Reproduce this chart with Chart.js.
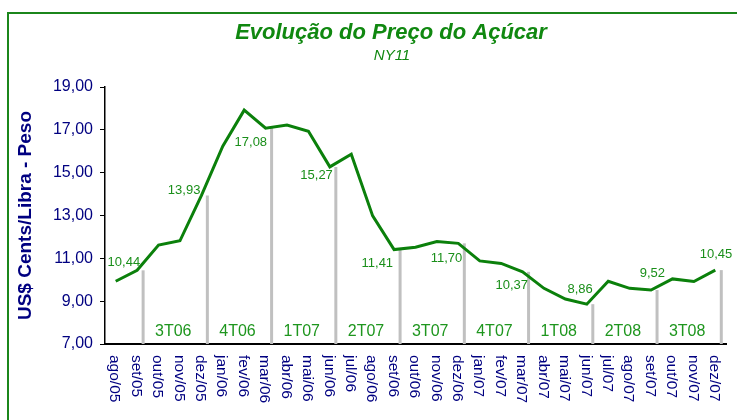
<!DOCTYPE html>
<html lang="pt">
<head>
<meta charset="utf-8">
<title>Evolução do Preço do Açúcar</title>
<script src="https://cdn.jsdelivr.net/npm/chart.js@4.4.1/dist/chart.umd.min.js"></script>
<style>
    html, body { margin: 0; padding: 0; background: #fff; }
    .graph { position: relative; width: 737px; height: 420px; overflow: hidden; }
    .frame { position: absolute; left: 7px; top: 12px; width: 800px; height: 500px;
             border-left: 2px solid #1b861b; border-top: 2px solid #1b861b; }
    #chart { position: absolute; left: 0; top: 0; }
</style>
</head>
<body>
<div class="graph">
    <div class="frame"></div>
    <canvas id="chart" width="737" height="420"></canvas>
</div>
<script>
const meses = ["ago/05", "set/05", "out/05", "nov/05", "dez/05", "jan/06", "fev/06", "mar/06",
    "abr/06", "mai/06", "jun/06", "jul/06", "ago/06", "set/06", "out/06", "nov/06", "dez/06",
    "jan/07", "fev/07", "mar/07", "abr/07", "mai/07", "jun/07", "jul/07", "ago/07", "set/07",
    "out/07", "nov/07", "dez/07"];
const precos = [9.93, 10.44, 11.62, 11.82, 13.93, 16.24, 17.92, 17.08, 17.22, 16.93, 15.27, 15.86,
    12.98, 11.41, 11.52, 11.78, 11.70, 10.88, 10.76, 10.37, 9.60, 9.10, 8.86, 9.93, 9.60, 9.52,
    10.04, 9.92, 10.45];
// months closing each quarter (index into meses)
const fimTrimestre = [1, 4, 7, 10, 13, 16, 19, 22, 25, 28];
const trimestres = ["3T06", "4T06", "1T07", "2T07", "3T07", "4T07", "1T08", "2T08", "3T08"];
const yMin = 7, yMax = 19, yPasso = 2;

const titulo = "Evolução do Preço do Açúcar";
const subtitulo = "NY11";
const tituloEixo = "US$ Cents/Libra - Peso";

const verde = "#0b800b", verdeTexto = "#1a8f1a", azul = "#000080", cinza = "#c0c0c0";
const fonte = "'Liberation Sans', Arial, sans-serif";

function fmt(v) {
    return v.toFixed(2).replace(".", ",");
}

// gray markers only on quarter-end months
let barras = precos.map((v, i) => fimTrimestre.includes(i) ? v : null);
let vazio = precos.map(() => null);

// label offsets: [right edge dx, center dy] from the line point
const posRotulo = [[3, -8], [-1, -5.5], [1.5, 14], [3, 9], [-1, 13.5], [4, 14.6], [5.5, 13.6],
    [6, -15], [14, -16.7], [17, -15.7]];

const textos = {
    id: "textos",
    afterDatasetsDraw(chart) {
        const ctx = chart.ctx;
        const x = chart.scales.x, y = chart.scales.y;
        ctx.save();

        // title
        ctx.fillStyle = "#108810";
        ctx.textAlign = "center";
        ctx.textBaseline = "middle";
        ctx.font = "italic bold 22px " + fonte;
        ctx.fillText(titulo, 391, 33);
        ctx.font = "italic 15px " + fonte;
        ctx.fillText(subtitulo, 392, 56);

        // month labels, rotated clockwise
        ctx.fillStyle = azul;
        ctx.font = "15.5px " + fonte;
        ctx.textAlign = "left";
        meses.forEach((m, i) => {
            ctx.save();
            ctx.translate(x.getPixelForValue(i) - 1, 355);
            ctx.rotate(Math.PI / 2);
            ctx.fillText(m, 0, 0);
            ctx.restore();
        });

        // quarter names between the markers
        ctx.fillStyle = "#1e961e";
        ctx.font = "16px " + fonte;
        ctx.textAlign = "center";
        trimestres.forEach((t, k) => {
            let cx = (x.getPixelForValue(fimTrimestre[k]) + x.getPixelForValue(fimTrimestre[k + 1])) / 2 + 4;
            ctx.fillText(t, cx, 332);
        });

        // values at quarter ends
        ctx.fillStyle = verdeTexto;
        ctx.font = "13px " + fonte;
        ctx.textAlign = "right";
        fimTrimestre.forEach((i, k) => {
            let px = x.getPixelForValue(i), py = y.getPixelForValue(precos[i]);
            ctx.fillText(fmt(precos[i]), px + posRotulo[k][0], py + posRotulo[k][1]);
        });

        ctx.restore();
    }
};

Chart.defaults.font.family = fonte;

let chart = new Chart(document.getElementById("chart"), {
    type: "line",
    data: {
        labels: meses,
        datasets: [{
            type: "line",
            data: precos,
            borderColor: verde,
            borderWidth: 3,
            pointRadius: 0,
            tension: 0,
            fill: false,
            order: 0,
        }, {
            type: "bar",
            data: vazio,
            order: 1,
            categoryPercentage: 1.12,
            barPercentage: 0.25,
        }, {
            type: "bar",
            data: barras,
            backgroundColor: cinza,
            order: 1,
            categoryPercentage: 1.12,
            barPercentage: 0.25,
        }]
    },
    options: {
        responsive: false,
        animation: false,
        layout: { padding: { left: 8, right: 11, top: 87, bottom: 0 } },
        plugins: {
            legend: { display: false },
            title: { display: false },
            tooltip: { enabled: false },
        },
        scales: {
            x: {
                offset: true,
                grid: { display: false },
                border: { display: true, color: "#000", width: 2 },
                ticks: { display: false },
                afterFit(s) { s.height = 76; },
            },
            y: {
                min: yMin,
                max: yMax,
                ticks: {
                    stepSize: yPasso,
                    color: azul,
                    padding: 7,
                    font: { size: 16 },
                    callback: v => fmt(v),
                },
                grid: { drawOnChartArea: false, drawTicks: true, tickLength: 5, color: "#000" },
                border: { display: true, color: "#000", width: 1.5 },
                title: {
                    display: true,
                    text: tituloEixo,
                    color: azul,
                    font: { size: 19, weight: "bold" },
                    padding: { top: 6, bottom: 0 },
                },
                afterFit(s) { s.width = 97; },
            }
        }
    },
    plugins: [textos],
});
</script>
</body>
</html>
